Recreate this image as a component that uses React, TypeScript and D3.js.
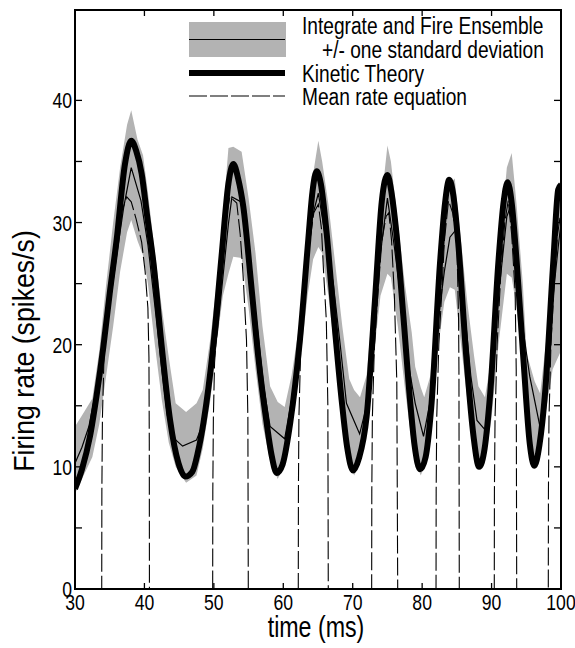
import React from "react";
import * as d3 from "d3";

// ---- data ----
const xTicks = [30, 40, 50, 60, 70, 80, 90, 100];
const yTickLabels = [0, 10, 20, 30, 40];
const yMinorTicks = [0, 5, 10, 15, 20, 25, 30, 35, 40];

const legendLabels = [
  "Integrate and Fire Ensemble",
  "+/- one standard deviation",
  "Kinetic Theory",
  "Mean rate equation",
];

// Kinetic theory (thick line): [time, rate]
const kinetic: [number, number][] = [
  [30, 8.2], [31, 9.8], [32.16, 12.5], [33.1, 15.8], [34.08, 19.8], [35.0, 24.2], [36.0, 28.6],
  [37.2, 34.8], [38.1, 36.7], [38.8, 35.9], [39.6, 34.0], [40.4, 30.5], [41.3, 26.7], [42.5, 19.8],
  [43.7, 13.8], [44.9, 10.3], [45.9, 9.2], [46.9, 9.6], [47.7, 11.2], [48.5, 13.6], [49.9, 19.8],
  [51.1, 27.2], [52.1, 33.2], [52.8, 34.8], [53.5, 33.6], [54.24, 31.3], [55.45, 24.5], [56.4, 19.0],
  [57.6, 13.6], [58.3, 11.0], [59.05, 9.5], [59.9, 10.2], [61.0, 13.6], [62.4, 20.4], [63.6, 28.6],
  [64.2, 32.5], [64.8, 34.2], [65.4, 33.2], [66.25, 29.1], [67.2, 22.8], [68.4, 15.5], [69.2, 11.6],
  [70.05, 9.7], [70.9, 10.7], [72.0, 14.1], [73.2, 23.6], [74.2, 31.8], [75.0, 33.9], [75.6, 32.4],
  [76.3, 29.1], [77.3, 22.3], [78.25, 15.5], [78.9, 11.8], [79.7, 9.8], [80.5, 10.8], [81.3, 14.8],
  [82.6, 26.9], [83.3, 31.6], [83.9, 33.5], [84.5, 32.2], [85.2, 28.3], [86.4, 18.7], [87.4, 12.5],
  [88.2, 10.0], [89.0, 11.5], [89.8, 16.0], [91.0, 26.9], [91.7, 31.5], [92.3, 33.3], [92.9, 31.6],
  [93.6, 26.9], [94.6, 18.7], [95.5, 11.9], [96.15, 10.1], [96.9, 11.8], [97.7, 16.0], [98.9, 26.9],
  [99.6, 32.7], [100, 33.1],
];

// Integrate-and-fire ensemble mean (thin line)
const ifMean: [number, number][] = [
  [30, 10.3], [31, 11.6], [32, 13.3], [33, 16.2], [34, 19.2], [35, 23.2], [36, 27.3], [37, 31.2],
  [38.1, 34.5], [39.5, 31.8], [40.5, 28.2], [41.5, 23.2], [42.5, 18], [43.3, 14.2], [44.3, 12.3],
  [45.5, 11.7], [47.5, 12.2], [48.4, 13.5], [49.5, 17.5], [50.5, 21], [51.3, 25.5], [52.1, 29.9],
  [52.6, 32.1], [54.2, 31.6], [55.2, 26.5], [56.2, 21.7], [57.2, 16.5], [58.1, 13.3], [60.2, 12.3],
  [61.2, 15.5], [62.4, 20.5], [63.5, 27], [64.2, 30.5], [65.05, 32.4], [66.1, 28.7], [67.2, 25],
  [68.2, 20], [69.1, 15.2], [71.0, 12.7], [72, 15], [73, 21], [74, 27.5], [75, 32.0], [76, 28],
  [77, 23.5], [78, 18.5], [79, 15.2], [80.2, 12.5], [81.2, 15.5], [82.2, 21.5], [83.2, 26],
  [84.0, 28.8], [85.0, 29.5], [86, 23.5], [87, 17.5], [87.9, 13.8], [89.1, 13.0], [90, 17],
  [91, 24], [92.2, 30.5], [92.9, 31.6], [93.8, 26], [94.6, 21], [95.5, 17.4], [96.97, 13.3],
  [97.7, 16.5], [98.4, 21.5], [99.6, 28], [100, 30],
];

// Ensemble +/- one standard deviation: [time, low, high]
const ifBand: [number, number, number][] = [
  [30, 7.8, 13.3], [31, 9.0, 14.2], [32.5, 10.8, 15.6], [33.5, 13.5, 19.5], [34.5, 17.5, 25],
  [35.5, 21.5, 30], [36.5, 26, 34.5], [37.5, 29.2, 38], [38.1, 30.2, 39.2], [39, 28.5, 36.8],
  [39.8, 27.3, 35.5], [40.5, 25, 32.5], [41.5, 20, 27.5], [42.5, 15.5, 23], [43.5, 12, 19],
  [44.5, 10, 15.2], [46, 8.7, 14.5], [47.5, 9.3, 15.2], [48.4, 11.5, 16.3],
  [49.5, 15.5, 20.5], [50.5, 20.5, 25.5], [51.3, 24, 30.5], [52.1, 25.8, 36.1], [52.8, 27.2, 36.2],
  [54.0, 27.1, 35.8], [55.0, 23, 32], [56.0, 18, 27.5], [57.0, 13.5, 21.5], [58.1, 10.5, 16.6],
  [59.2, 9.0, 15.3], [60.2, 10.3, 14.9], [61.2, 13.5, 17.5],
  [62.4, 18.5, 22], [63.5, 24, 29.5], [64.3, 27, 34], [65.05, 28.0, 36.7], [65.6, 27.5, 35],
  [66.5, 24, 31.5], [67.5, 19, 26.5], [68.5, 14, 21.5], [69.5, 10.5, 17.2], [70.2, 9.3, 16.3],
  [71.05, 10.3, 15.7], [72, 13.5, 17.5],
  [73, 19, 24], [74, 24, 31], [75, 25.8, 36.3], [75.5, 25.5, 35], [76.5, 21.5, 30], [77.5, 16.5, 25],
  [78.5, 12, 21], [79.0, 10.5, 18.2], [79.8, 9.3, 16.5], [80.3, 10, 15.7], [81.2, 13.5, 17.5],
  [82.1, 19, 23.5], [83.2, 23.5, 30], [84.0, 24.7, 33.2], [84.7, 24.5, 33.6], [85.5, 20.5, 29],
  [86.5, 15.5, 23.5], [87.5, 11.5, 19], [88.1, 10.0, 16.6], [89.05, 10.5, 15.7], [90, 14, 19],
  [91, 20, 27], [92.2, 25.8, 34.5], [92.9, 25.5, 35.7], [93.6, 23, 31.5], [94.5, 18, 25],
  [95.05, 14.5, 19.3], [96.2, 10, 17], [97.0, 11.5, 16.0], [97.8, 14.5, 20], [98.8, 18, 27],
  [100, 19.5, 33],
];

// Mean rate equation (dashed): pulses separated by zero rate
const meanRate: [number, number][] = [
  [30, 0], [33.85, 0], [33.87, 8], [33.95, 14], [34.15, 18.5], [34.5, 21.5], [35.2, 25], [36, 28.3],
  [36.8, 31], [37.45, 32.1], [38.1, 31.7], [38.8, 30.3], [39.6, 28.4], [40.1, 26], [40.5, 23],
  [40.65, 19], [40.7, 12], [40.72, 0],
  [49.83, 0], [49.85, 8], [49.93, 14], [50.1, 18.5], [50.5, 22], [51.2, 27], [51.8, 30.5],
  [52.3, 32.1], [53.3, 31.6], [53.8, 29], [54.2, 25.8], [54.7, 20.4], [54.9, 14], [54.96, 0],
  [62.16, 0], [62.18, 8], [62.25, 14], [62.5, 19.5], [63, 23.5], [63.7, 28], [64.4, 30.8],
  [65.05, 31.5], [65.5, 29.5], [65.8, 26], [66.2, 22], [66.42, 15], [66.48, 0],
  [72.73, 0], [72.75, 8], [72.83, 14], [73.1, 19.5], [73.6, 24], [74.2, 28.5], [74.8, 30.5],
  [75.2, 30.8], [75.6, 28.5], [76.0, 24], [76.35, 17], [76.48, 0],
  [82.0, 0], [82.02, 8], [82.1, 14], [82.4, 20], [82.9, 25], [83.2, 28.5], [83.8, 31.8],
  [84.4, 30.8], [85.0, 28.5], [85.25, 22], [85.3, 18], [85.35, 0],
  [90.39, 0], [90.41, 8], [90.5, 14], [90.8, 20], [91.3, 25.5], [91.9, 30], [92.4, 31.8],
  [92.9, 29], [93.4, 24.2], [93.55, 18], [93.62, 0],
  [98.17, 0], [98.19, 8], [98.27, 14], [98.55, 20], [99.0, 25], [99.5, 29], [100, 31],
];

// ---- layout ----
const W = 575;
const H = 648;
const L = 75, R = 561, T = 10, B = 589;
const FONT = "'Liberation Sans', Arial, Helvetica, sans-serif";
const GRAY = "#b3b3b3";

const x = d3.scaleLinear().domain([30, 100]).range([L, R]);
const y = d3.scaleLinear().domain([0, 47.4]).range([B, T]);

function NText(props: {
  x: number; y: number; size: number; anchor?: string; rotate?: number; stretch?: number;
  children: React.ReactNode;
}) {
  const { size, anchor = "start", rotate = 0, stretch = 0.8, children } = props;
  return (
    <text
      transform={`translate(${props.x},${props.y}) rotate(${rotate}) scale(${stretch},1)`}
      fontSize={size}
      fontFamily={FONT}
      textAnchor={anchor}
      fill="#000"
    >
      {children}
    </text>
  );
}

export default function App() {
  const thickPath = d3
    .line<[number, number]>()
    .x((d) => x(d[0]))
    .y((d) => y(d[1]))
    .curve(d3.curveMonotoneX)(kinetic) as string;

  const thinPath = d3
    .line<[number, number]>()
    .x((d) => x(d[0]))
    .y((d) => y(d[1]))(ifMean) as string;

  const dashPath = d3
    .line<[number, number]>()
    .x((d) => x(d[0]))
    .y((d) => y(d[1]))(meanRate) as string;

  const bandPath = d3
    .area<[number, number, number]>()
    .x((d) => x(d[0]))
    .y0((d) => y(d[1]))
    .y1((d) => y(d[2]))(ifBand) as string;

  return (
    <svg
      width={W}
      height={H}
      style={{ position: "absolute", left: 0, top: 0, background: "#fff" }}
    >
      <defs>
        <clipPath id="plotclip">
          <rect x={L} y={T} width={R - L} height={B - T} />
        </clipPath>
      </defs>
      <rect x={0} y={0} width={W} height={H} fill="#fff" />
      <g clipPath="url(#plotclip)">
        <path d={bandPath} fill={GRAY} stroke="none" />
        <path d={thickPath} fill="none" stroke="#000" strokeWidth={6} strokeLinejoin="round" />
        <path d={thinPath} fill="none" stroke="#000" strokeWidth={1.2} />
        <path d={dashPath} fill="none" stroke="#000" strokeWidth={1.1} strokeDasharray="18,4" />
      </g>

      {/* frame */}
      <rect x={L} y={T} width={R - L} height={B - T} fill="none" stroke="#000" strokeWidth={2} />

      {/* x ticks: bottom (up) and top (down) */}
      {xTicks.map((t) => (
        <g key={"xt" + t}>
          <line x1={x(t)} x2={x(t)} y1={B} y2={B - 6} stroke="#000" strokeWidth={1.3} />
          <line x1={x(t)} x2={x(t)} y1={T} y2={T + 6} stroke="#000" strokeWidth={1.3} />
          <NText x={x(t)} y={610} size={22} anchor="middle">{t}</NText>
        </g>
      ))}

      {/* y ticks: left and right, inward */}
      {yMinorTicks.map((v) => (
        <g key={"yt" + v}>
          <line x1={L} x2={L + 7} y1={y(v)} y2={y(v)} stroke="#000" strokeWidth={1.3} />
          <line x1={R} x2={R - 7} y1={y(v)} y2={y(v)} stroke="#000" strokeWidth={1.3} />
        </g>
      ))}
      {yTickLabels.map((v) => (
        <NText key={"yl" + v} x={72} y={y(v) + 8} size={22} anchor="end">{v}</NText>
      ))}

      {/* axis titles */}
      <NText x={316} y={637} size={29} anchor="middle">time (ms)</NText>
      <NText x={34} y={351} size={29} anchor="middle" rotate={-90} stretch={0.92}>
        Firing rate (spikes/s)
      </NText>

      {/* legend */}
      <rect x={189} y={22} width={97} height={35} fill={GRAY} />
      <line x1={189} x2={285} y1={39.5} y2={39.5} stroke="#000" strokeWidth={1.2} />
      <line x1={189} x2={285} y1={73} y2={73} stroke="#000" strokeWidth={6} />
      <line x1={189} x2={285} y1={96} y2={96} stroke="#000" strokeWidth={1.1} strokeDasharray="18,3" />
      <NText x={302} y={33.5} size={23.5} stretch={0.815}>{legendLabels[0]}</NText>
      <NText x={322} y={57.5} size={23.5} stretch={0.815}>{legendLabels[1]}</NText>
      <NText x={302} y={81.5} size={23.5} stretch={0.815}>{legendLabels[2]}</NText>
      <NText x={302} y={105} size={23.5} stretch={0.815}>{legendLabels[3]}</NText>
    </svg>
  );
}
